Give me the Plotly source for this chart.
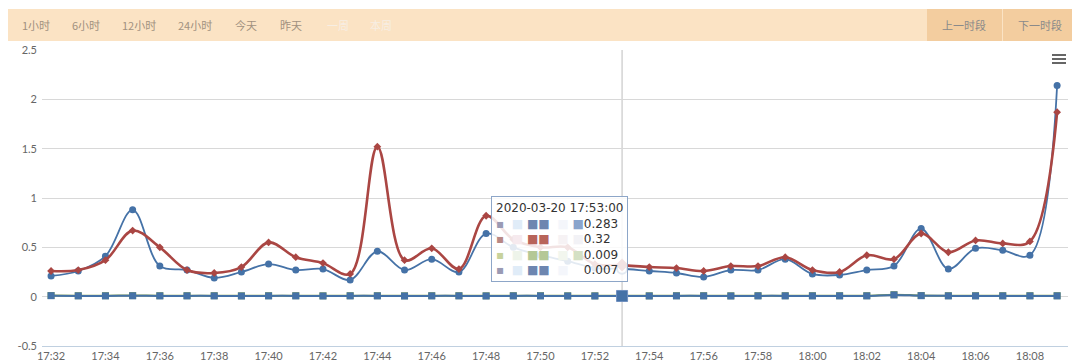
import plotly.graph_objects as go
import pandas as pd

# ---- data ----
times = pd.date_range("2020-03-20 17:32", "2020-03-20 18:09", freq="1min")
tick_labels = ["17:32", "17:34", "17:36", "17:38", "17:40", "17:42", "17:44", "17:46", "17:48", "17:50",
               "17:52", "17:54", "17:56", "17:58", "18:00", "18:02", "18:04", "18:06", "18:08"]
series_a = [0.21, 0.26, 0.41, 0.88, 0.31, 0.27, 0.19, 0.25, 0.33, 0.27, 0.28, 0.17, 0.46, 0.27, 0.38, 0.25,
            0.64, 0.50, 0.42, 0.36, 0.29, 0.283, 0.26, 0.24, 0.20, 0.27, 0.27, 0.38, 0.23, 0.22, 0.27, 0.31,
            0.69, 0.28, 0.49, 0.47, 0.42, 2.14]
series_b = [0.26, 0.27, 0.37, 0.67, 0.50, 0.27, 0.24, 0.30, 0.55, 0.40, 0.34, 0.23, 1.52, 0.37, 0.49, 0.28,
            0.82, 0.58, 0.50, 0.50, 0.33, 0.32, 0.30, 0.29, 0.26, 0.31, 0.31, 0.40, 0.27, 0.25, 0.42, 0.38,
            0.64, 0.45, 0.57, 0.54, 0.56, 1.87]
series_c = [0.012, 0.010, 0.010, 0.011, 0.010, 0.010, 0.010, 0.009, 0.010, 0.010, 0.009, 0.010, 0.010, 0.009,
            0.010, 0.010, 0.009, 0.010, 0.010, 0.009, 0.009, 0.009, 0.009, 0.010, 0.010, 0.009, 0.010, 0.010,
            0.010, 0.010, 0.010, 0.020, 0.012, 0.010, 0.010, 0.010, 0.010, 0.010]
series_d = [0.010, 0.008, 0.008, 0.009, 0.008, 0.008, 0.008, 0.007, 0.008, 0.008, 0.007, 0.008, 0.008, 0.007,
            0.008, 0.008, 0.007, 0.008, 0.008, 0.007, 0.007, 0.007, 0.007, 0.008, 0.008, 0.007, 0.008, 0.008,
            0.008, 0.008, 0.008, 0.018, 0.010, 0.008, 0.008, 0.008, 0.008, 0.008]
hover_index = 21
buttons_left = ["1小时", "6小时", "12小时", "24小时", "今天", "昨天", "一周", "本周"]
buttons_right = ["上一时段", "下一时段"]
y_ticks = [-0.5, 0, 0.5, 1, 1.5, 2, 2.5]
y_tick_text = ["-0.5", "0", "0.5", "1", "1.5", "2", "2.5"]

BLUE = "#4572A7"
RED = "#AA4643"
GREEN = "#89A54E"

# page body has an 8px margin, so the figure is drawn 8px in from the window edge
OFF = 8
W, H = 1080 - OFF, 363 - OFF
L, T = 42 - OFF, 50 - OFF
R, B = W - (1068 - OFF), H - (346 - OFF)
PW, PH = W - L - R, H - T - B


def px(x):
    return (x - OFF - L) / PW


def py(y):
    return (H - B - (y - OFF)) / PH


fig = go.Figure()
fig.add_trace(go.Scatter(x=times, y=series_c, mode="lines+markers", line=dict(color=GREEN, width=2, shape="spline"),
                         marker=dict(symbol="square", size=7, color=GREEN), name="c"))
fig.add_trace(go.Scatter(x=times, y=series_d, mode="lines+markers", line=dict(color=BLUE, width=2, shape="spline"),
                         marker=dict(symbol="square", size=7, color=BLUE), name="d"))
fig.add_trace(go.Scatter(x=times, y=series_a, mode="lines+markers",
                         line=dict(color=BLUE, width=1.8, shape="spline", smoothing=1.0),
                         marker=dict(symbol="circle", size=7, color=BLUE), name="a"))
fig.add_trace(go.Scatter(x=times, y=series_b, mode="lines+markers",
                         line=dict(color=RED, width=2.6, shape="spline", smoothing=1.0),
                         marker=dict(symbol="diamond", size=6, color=RED), name="b"))
# hover-state markers
fig.add_trace(go.Scatter(x=[times[hover_index]], y=[series_d[hover_index]], mode="markers",
                         marker=dict(symbol="square", size=11, color=BLUE, line=dict(color="#6f8fbf", width=1))))
fig.add_trace(go.Scatter(x=[times[hover_index]], y=[series_a[hover_index]], mode="markers",
                         marker=dict(symbol="circle", size=10, color="white", line=dict(color=BLUE, width=2))))
fig.add_trace(go.Scatter(x=[times[hover_index]], y=[series_b[hover_index]], mode="markers",
                         marker=dict(symbol="diamond", size=10, color=RED)))

shapes = []
# crosshair
shapes.append(dict(type="line", xref="x", yref="paper", x0=times[hover_index], x1=times[hover_index], y0=0, y1=1,
                   line=dict(color="#C8C8C8", width=1.2), layer="below"))
# top toolbar
shapes.append(dict(type="rect", xref="paper", yref="paper", x0=px(8), x1=px(1077), y0=py(41), y1=py(9),
                   fillcolor="#FBE3C4", line=dict(width=0), layer="below"))
shapes.append(dict(type="rect", xref="paper", yref="paper", x0=px(927), x1=px(1002), y0=py(41), y1=py(9),
                   fillcolor="#F3CD9F", line=dict(width=0), layer="below"))
shapes.append(dict(type="rect", xref="paper", yref="paper", x0=px(1003), x1=px(1077), y0=py(41), y1=py(9),
                   fillcolor="#F3CD9F", line=dict(width=0), layer="below"))
# menu icon
for yy in (55, 59, 63):
    shapes.append(dict(type="line", xref="paper", yref="paper", x0=px(1052), x1=px(1066), y0=py(yy), y1=py(yy),
                       line=dict(color="#666666", width=2)))

annotations = []
left_x = [20, 70, 120, 176, 233, 278, 325, 368]
for i, lab in enumerate(buttons_left):
    col = "#A1917F" if i < 6 else "#F7EEE3"
    annotations.append(dict(text=lab, xref="paper", yref="paper", x=px(left_x[i]), y=py(25), xanchor="left",
                            yanchor="middle", showarrow=False, font=dict(size=11, color=col,
                                                                           family="Noto Sans CJK SC")))
for i, lab in enumerate(buttons_right):
    cx = [964, 1040][i]
    annotations.append(dict(text=lab, xref="paper", yref="paper", x=px(cx), y=py(25), xanchor="center",
                            yanchor="middle", showarrow=False, font=dict(size=11, color="#8A8A8A",
                                                                           family="Noto Sans CJK SC")))

# tooltip
blk = "<span style='color:{c}'>{s}</span>"
rows = [
    (["#9a9ab4", "#e0ecf8", "#6d86b0", "#f4f6fb", "#8aa4cc"], f"{series_a[hover_index]:.3f}"),
    (["#b88884", "#f6eaee", "#b8645a", "#f6f2f4", "#f2f2f6"], f"{series_b[hover_index]:.2f}"),
    (["#c8d29c", "#eef4ea", "#b4c896", "#f2f6ee", "#d4e0c4"], f"{series_c[hover_index]:.3f}"),
    (["#9a9ab4", "#e0ecf8", "#6d86b0", "#f4f6fb", "#ffffff"], f"{series_d[hover_index]:.3f}"),
]
lines = [times[hover_index].strftime("%Y-%m-%d %H:%M:%S")]
for cols, val in rows:
    parts = [blk.format(c=cols[0], s="▪"), "  ", blk.format(c=cols[1], s="■"), " ",
             blk.format(c=cols[2], s="■■"), "  ", blk.format(c=cols[3], s="■"), " ",
             blk.format(c=cols[4], s="■"), val]
    lines.append("".join(parts))
annotations.append(dict(text="<br>".join(lines), xref="paper", yref="paper", x=px(491), y=py(196),
                        xanchor="left", yanchor="top", align="left", showarrow=False,
                        bgcolor="rgba(255,255,255,0.85)", bordercolor="#8DA6C8", borderwidth=1, borderpad=4,
                        font=dict(size=12, color="#333333", family="DejaVu Sans")))

fig.update_layout(
    width=W, height=H, margin=dict(l=L, r=R, t=T, b=B, autoexpand=False),
    paper_bgcolor="white", plot_bgcolor="white", showlegend=False,
    shapes=shapes, annotations=annotations,
    font=dict(family="Lato", color="#666666", size=11),
)
fig.update_xaxes(range=[pd.Timestamp("2020-03-20 17:31:40"), pd.Timestamp("2020-03-20 18:09:24")],
                 tickvals=[pd.Timestamp("2020-03-20 " + t) for t in tick_labels], ticktext=tick_labels,
                 showgrid=False, showline=True, linecolor="#C0D0E0", linewidth=1, ticks="",
                 tickfont=dict(size=11, color="#666666"), zeroline=False, automargin=False)
fig.update_yaxes(range=[-0.5, 2.5], tickvals=y_ticks, ticktext=y_tick_text, showgrid=True,
                 gridcolor="#D8D8D8", gridwidth=1, zeroline=False, showline=False,
                 tickfont=dict(size=11, color="#666666"), ticks="", ticklabelstandoff=4, automargin=False)

fig.write_html("out.html")
